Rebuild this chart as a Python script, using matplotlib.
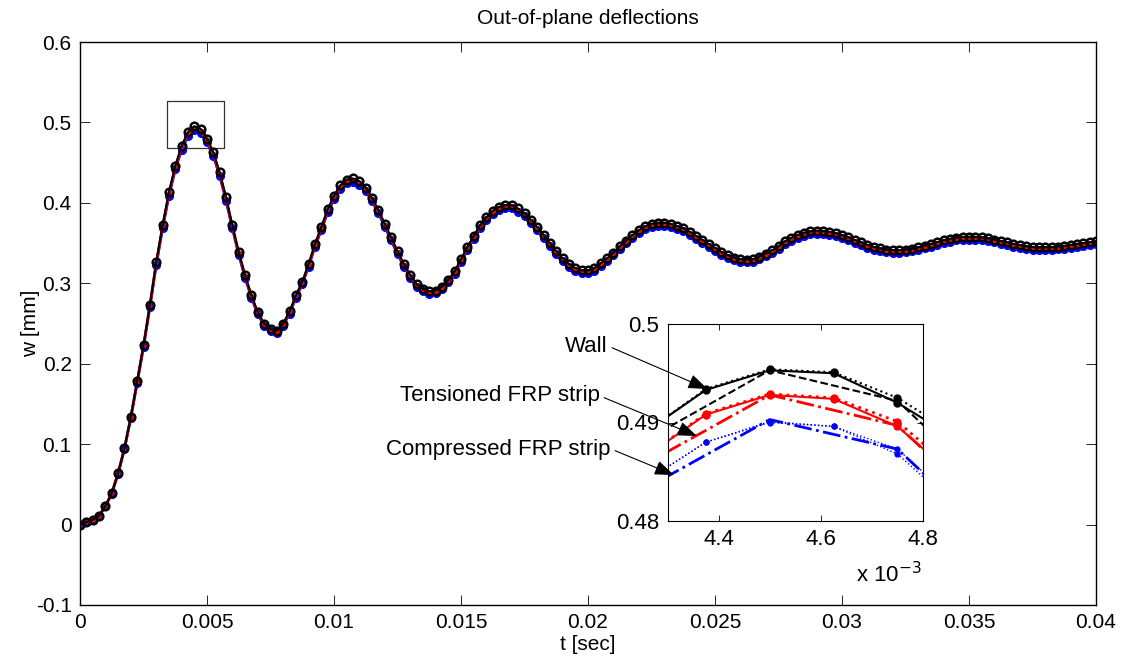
import numpy as np
import matplotlib
matplotlib.use('Agg')
import matplotlib.pyplot as plt
from matplotlib.patches import Rectangle
from matplotlib.ticker import FuncFormatter

plt.rcParams['font.family'] = ['Liberation Sans', 'DejaVu Sans']

# sample times, one every 0.25 ms
t = np.linspace(0, 0.04, 161)

# out-of-plane deflection w [mm]
wall = np.array([
    0.0000, 0.0030, 0.0060, 0.0110, 0.0230, 0.0390, 0.0640, 0.0950, 0.1340, 0.1780,
    0.2230, 0.2730, 0.3260, 0.3720, 0.4130, 0.4460, 0.4710, 0.4880, 0.4953, 0.4922,
    0.4800, 0.4630, 0.4380, 0.4070, 0.3720, 0.3390, 0.3100, 0.2850, 0.2640, 0.2500,
    0.2430, 0.2410, 0.2500, 0.2650, 0.2850, 0.3020, 0.3240, 0.3490, 0.3700, 0.3920,
    0.4090, 0.4220, 0.4290, 0.4305, 0.4270, 0.4190, 0.4060, 0.3910, 0.3740, 0.3570,
    0.3400, 0.3240, 0.3100, 0.2990, 0.2930, 0.2900, 0.2910, 0.2960, 0.3040, 0.3150,
    0.3300, 0.3450, 0.3590, 0.3720, 0.3820, 0.3900, 0.3950, 0.3975, 0.3970, 0.3930,
    0.3870, 0.3790, 0.3700, 0.3600, 0.3500, 0.3400, 0.3310, 0.3240, 0.3190, 0.3160,
    0.3160, 0.3190, 0.3250, 0.3310, 0.3380, 0.3460, 0.3530, 0.3600, 0.3660, 0.3710,
    0.3740, 0.3755, 0.3755, 0.3740, 0.3710, 0.3685, 0.3640, 0.3590, 0.3540, 0.3490,
    0.3440, 0.3390, 0.3350, 0.3320, 0.3300, 0.3295, 0.3300, 0.3330, 0.3370, 0.3410,
    0.3460, 0.3520, 0.3565, 0.3600, 0.3630, 0.3645, 0.3655, 0.3652, 0.3640, 0.3622,
    0.3598, 0.3570, 0.3539, 0.3508, 0.3479, 0.3453, 0.3433, 0.3418, 0.3411, 0.3411,
    0.3418, 0.3430, 0.3447, 0.3468, 0.3490, 0.3513, 0.3535, 0.3554, 0.3568, 0.3577,
    0.3580, 0.3578, 0.3570, 0.3559, 0.3544, 0.3527, 0.3509, 0.3491, 0.3475, 0.3461,
    0.3451, 0.3446, 0.3446, 0.3449, 0.3456, 0.3466, 0.3478, 0.3490, 0.3500, 0.3510,
    0.3520])

tens = np.array([
    0.0000, 0.0030, 0.0060, 0.0109, 0.0229, 0.0388, 0.0637, 0.0945, 0.1333, 0.1771,
    0.2219, 0.2716, 0.3244, 0.3701, 0.4109, 0.4438, 0.4686, 0.4856, 0.4928, 0.4897,
    0.4776, 0.4607, 0.4358, 0.4050, 0.3701, 0.3373, 0.3085, 0.2836, 0.2627, 0.2488,
    0.2418, 0.2398, 0.2488, 0.2637, 0.2836, 0.3005, 0.3224, 0.3473, 0.3682, 0.3900,
    0.4070, 0.4199, 0.4269, 0.4283, 0.4249, 0.4169, 0.4040, 0.3890, 0.3721, 0.3552,
    0.3383, 0.3224, 0.3085, 0.2975, 0.2915, 0.2886, 0.2895, 0.2945, 0.3025, 0.3134,
    0.3284, 0.3433, 0.3572, 0.3701, 0.3801, 0.3881, 0.3930, 0.3955, 0.3950, 0.3910,
    0.3851, 0.3771, 0.3682, 0.3582, 0.3483, 0.3383, 0.3293, 0.3224, 0.3174, 0.3144,
    0.3144, 0.3174, 0.3234, 0.3293, 0.3363, 0.3443, 0.3512, 0.3582, 0.3642, 0.3691,
    0.3721, 0.3736, 0.3736, 0.3721, 0.3691, 0.3667, 0.3622, 0.3572, 0.3522, 0.3473,
    0.3423, 0.3373, 0.3333, 0.3303, 0.3284, 0.3279, 0.3284, 0.3313, 0.3353, 0.3393,
    0.3443, 0.3502, 0.3547, 0.3582, 0.3612, 0.3627, 0.3637, 0.3634, 0.3622, 0.3604,
    0.3580, 0.3552, 0.3521, 0.3490, 0.3462, 0.3436, 0.3416, 0.3401, 0.3394, 0.3394,
    0.3401, 0.3413, 0.3430, 0.3451, 0.3473, 0.3495, 0.3517, 0.3536, 0.3550, 0.3559,
    0.3562, 0.3560, 0.3552, 0.3541, 0.3526, 0.3509, 0.3491, 0.3474, 0.3458, 0.3444,
    0.3434, 0.3429, 0.3429, 0.3432, 0.3439, 0.3449, 0.3461, 0.3473, 0.3483, 0.3492,
    0.3502])

comp = np.array([
    0.0000, 0.0030, 0.0059, 0.0109, 0.0228, 0.0386, 0.0634, 0.0941, 0.1327, 0.1762,
    0.2208, 0.2703, 0.3227, 0.3683, 0.4089, 0.4415, 0.4663, 0.4831, 0.4903, 0.4873,
    0.4752, 0.4584, 0.4336, 0.4029, 0.3683, 0.3356, 0.3069, 0.2822, 0.2614, 0.2475,
    0.2406, 0.2386, 0.2475, 0.2624, 0.2822, 0.2990, 0.3208, 0.3455, 0.3663, 0.3881,
    0.4049, 0.4178, 0.4247, 0.4262, 0.4227, 0.4148, 0.4019, 0.3871, 0.3703, 0.3534,
    0.3366, 0.3208, 0.3069, 0.2960, 0.2901, 0.2871, 0.2881, 0.2930, 0.3010, 0.3119,
    0.3267, 0.3416, 0.3554, 0.3683, 0.3782, 0.3861, 0.3911, 0.3935, 0.3930, 0.3891,
    0.3831, 0.3752, 0.3663, 0.3564, 0.3465, 0.3366, 0.3277, 0.3208, 0.3158, 0.3128,
    0.3128, 0.3158, 0.3218, 0.3277, 0.3346, 0.3425, 0.3495, 0.3564, 0.3623, 0.3673,
    0.3703, 0.3717, 0.3717, 0.3703, 0.3673, 0.3648, 0.3604, 0.3554, 0.3505, 0.3455,
    0.3406, 0.3356, 0.3317, 0.3287, 0.3267, 0.3262, 0.3267, 0.3297, 0.3336, 0.3376,
    0.3425, 0.3485, 0.3529, 0.3564, 0.3594, 0.3609, 0.3618, 0.3615, 0.3604, 0.3586,
    0.3562, 0.3534, 0.3504, 0.3473, 0.3444, 0.3418, 0.3399, 0.3384, 0.3377, 0.3377,
    0.3384, 0.3396, 0.3413, 0.3433, 0.3455, 0.3478, 0.3500, 0.3518, 0.3532, 0.3541,
    0.3544, 0.3542, 0.3534, 0.3523, 0.3509, 0.3492, 0.3474, 0.3456, 0.3440, 0.3426,
    0.3416, 0.3412, 0.3412, 0.3415, 0.3421, 0.3431, 0.3443, 0.3455, 0.3465, 0.3475,
    0.3485])

# zoom data near the first peak (finer time step)
t_fine = np.array([4.25, 4.375, 4.5, 4.625, 4.75, 4.875]) * 1e-3
wall_f1 = np.array([0.4888, 0.4933, 0.4953, 0.4950, 0.4920, 0.4880])
wall_f2 = np.array([0.4888, 0.4934, 0.4954, 0.4951, 0.4925, 0.4885])
tens_f1 = np.array([0.4863, 0.4908, 0.4928, 0.4924, 0.4896, 0.4840])
tens_f2 = np.array([0.4863, 0.4909, 0.4929, 0.4925, 0.4901, 0.4845])
comp_f1 = np.array([0.4838, 0.4880, 0.4901, 0.4896, 0.4873, 0.4815])
comp_f2 = np.array([0.4838, 0.4880, 0.4900, 0.4896, 0.4868, 0.4810])

W, H = 1123, 657
fig = plt.figure(figsize=(W / 100, H / 100), dpi=100)
ax = fig.add_axes([80 / W, 52 / H, 1016 / W, 563 / H])

ax.plot(t, comp, '-', color='b', lw=2, marker='o', ms=5.5, mfc='b', mec='b')
ax.plot(t, tens, '-', color='r', lw=2, marker='.', ms=4)
ax.plot(t, wall, '-', color='k', lw=1.5, marker='o', ms=5.5, mfc='none',
        mec='k', mew=1.8)

ax.add_patch(Rectangle((0.003413, 0.4683), 0.002256, 0.0584, fill=False,
                       edgecolor='#333333', lw=0.9))

ax.set_xlim(0, 0.04)
ax.set_ylim(-0.1, 0.6)
ax.set_xticks(np.arange(0, 0.0401, 0.005))
ax.set_yticks(np.arange(-0.1, 0.601, 0.1))
fmt = FuncFormatter(lambda v, p: '%g' % round(v, 4))
ax.xaxis.set_major_formatter(fmt)
ax.yaxis.set_major_formatter(fmt)
ax.tick_params(direction='in', length=7, width=0.6, top=True, right=True,
               labelsize=15, pad=6)
for s in ax.spines.values():
    s.set_linewidth(1.0)
ax.set_title('Out-of-plane deflections', fontsize=15, pad=13)
ax.set_xlabel('t [sec]', fontsize=15, labelpad=2)
ax.set_ylabel('w [mm]', fontsize=15, labelpad=-3)

# inset
ax2 = fig.add_axes([667.5 / W, (H - 521) / H, 255.5 / W, 197 / H])
ax2.plot(t, wall, '--', color='k', lw=1.5)
ax2.plot(t, tens, '-.', color='r', lw=2)
ax2.plot(t, comp, '-.', color='b', lw=2)
ax2.plot(t_fine, wall_f1, '-', color='k', lw=1.5, marker='o', ms=5)
ax2.plot(t_fine, wall_f2, ':', color='k', lw=1.5, marker='o', ms=5)
ax2.plot(t_fine, tens_f1, '-', color='r', lw=1.5, marker='o', ms=5)
ax2.plot(t_fine, tens_f2, ':', color='r', lw=2, marker='o', ms=5)
ax2.plot(t_fine, comp_f1, ':', color='b', lw=1, marker='o', ms=3.5)
ax2.plot(t_fine, comp_f2, ':', color='b', lw=1, marker='o', ms=3.5)
ax2.set_xlim(0.0043, 0.0048)
ax2.set_ylim(0.48, 0.50)
ax2.set_xticks([0.0044, 0.0046, 0.0048])
ax2.set_xticklabels(['4.4', '4.6', '4.8'])
ax2.set_yticks([0.48, 0.49, 0.50])
ax2.set_yticklabels(['0.48', '0.49', '0.5'])
ax2.tick_params(direction='in', length=4, width=0.6, top=True, right=True,
                labelsize=16, pad=6)
fig.text(922 / W, 1 - 575 / H, r'x 10$^{-3}$', ha='right', va='center', fontsize=16)

arrow = dict(arrowstyle='-|>,head_length=0.8,head_width=0.3', color='k', lw=0.8,
             mutation_scale=15, shrinkA=1, shrinkB=0, relpos=(1, 0.5))
notes = [('Wall', (608, H - 346), (707.5, H - 389)),
         ('Tensioned FRP strip', (600, H - 396), (697, H - 436)),
         ('Compressed FRP strip', (611, H - 449), (674, H - 475))]
for txt, pos, tip in notes:
    ax2.annotate(txt, xy=tip, xytext=pos, xycoords='figure pixels',
                 textcoords='figure pixels', ha='right', va='center', fontsize=16,
                 arrowprops=arrow, annotation_clip=False)

fig.savefig('out.png', dpi=100)
